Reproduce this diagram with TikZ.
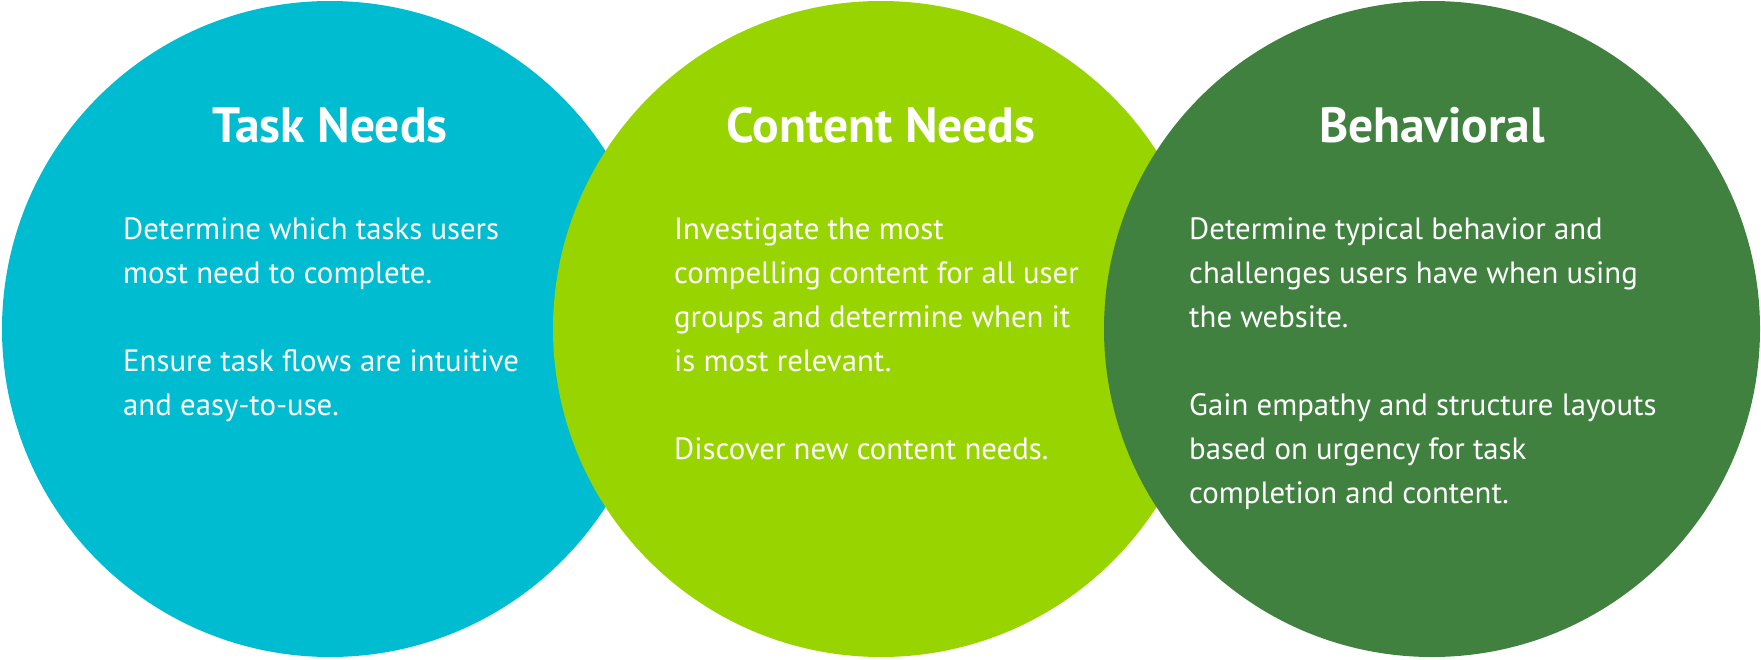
\documentclass[tikz,border=0pt]{standalone}
\usepackage{fontspec}
\setmainfont{PT Sans}
\usetikzlibrary{positioning}
\definecolor{taskblue}{RGB}{0,188,209}
\definecolor{contentlime}{RGB}{151,212,0}
\definecolor{behavegreen}{RGB}{64,129,64}
\tikzset{node distance = 551pt,
  bubble/.style = {circle, minimum size = 656pt, inner sep = 0pt},
  heading/.style = {text = white, anchor = base, font = \fontsize{49.5}{58}\selectfont\bfseries},
  blurb/.style = {text = white, anchor = north west, inner sep = 0pt, align = left,
    font = \fontsize{30.8}{44}\selectfont}}

\begin{document}
\begin{tikzpicture}[x = 1pt, y = -1pt]
  \useasboundingbox (0,0) rectangle (1761,659);
  % circles
  \node [bubble, fill = taskblue] (task) at (330,329) {};
  \node [bubble, fill = contentlime, right of = task] (content) {};
  \node [bubble, fill = behavegreen, right of = content] (behave) {};
  % titles
  \node [heading] (tasktitle) at ([yshift = 187pt]task.center) {Task Needs};
  \node [heading] (contenttitle) at ([yshift = 187pt]content.center) {Content Needs};
  \node [heading] (behavetitle) at ([yshift = 187pt]behave.center) {Behavioral};
  % texts
  \node [blurb] (tasktext) at ([xshift = -207pt, yshift = 112pt]task.center)
    {Determine which tasks users\\ most need to complete.\\[44pt]
     Ensure task flows are intuitive\\ and easy-to-use.};
  \node [blurb] (contenttext) at ([xshift = -207pt, yshift = 112pt]content.center)
    {Investigate the most\\ compelling content for all user\\ groups and determine when it\\
     is most relevant.\\[44pt] Discover new content needs.};
  \node [blurb] (behavetext) at ([xshift = -243pt, yshift = 112pt]behave.center)
    {Determine typical behavior and\\ challenges users have when using\\ the website.\\[44pt]
     Gain empathy and structure layouts\\ based on urgency for task\\ completion and content.};
\end{tikzpicture}
\end{document}
